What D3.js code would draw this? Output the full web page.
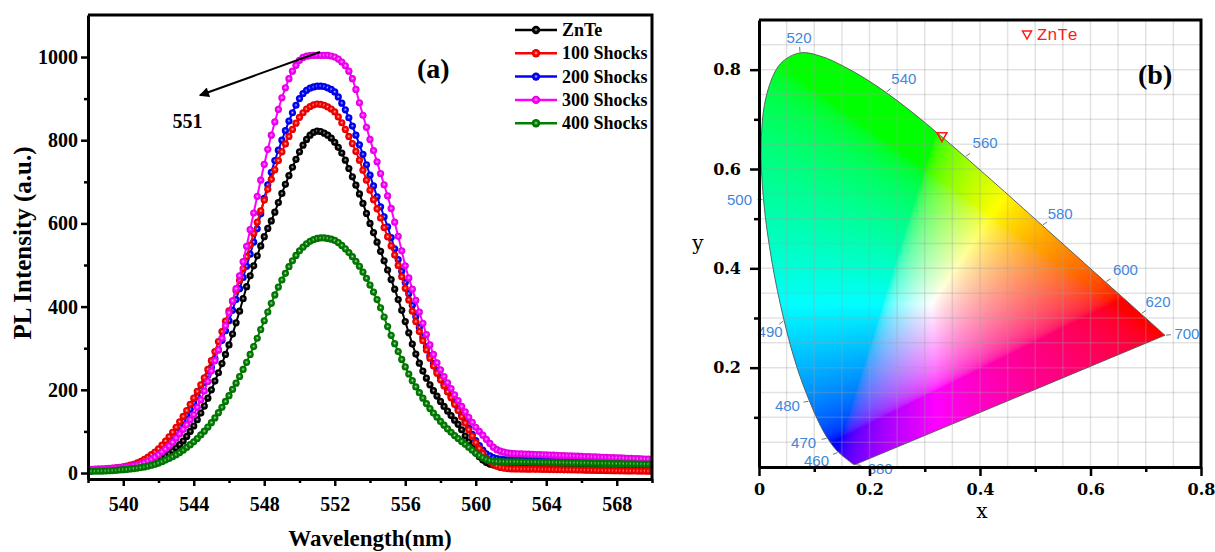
<!DOCTYPE html>
<html>
<head>
<meta charset="utf-8">
<script src="https://cdn.jsdelivr.net/npm/d3@7"></script>
<style>
  html, body { margin: 0; padding: 0; background: #fff; }
  svg { display: block; }
</style>
</head>
<body>
<svg id="chart" width="1215" height="552"></svg>
<script>
// ---------------- Panel (a): PL spectra ----------------
// Samples start at 538 nm, one every 0.2 nm (161 per spectrum).
const wlStart = 538;
const wlStep = 0.2;

const plZnTe = [
  6, 6, 6, 6.3, 6.6,  7, 7.2, 7.6, 8.1, 8.5,
  9, 9.8, 10.8, 12, 13.4,  15, 17.2, 19.7, 22.6, 26,
  30, 35, 40, 46, 53,  60, 68, 77, 88, 100,
  113, 128, 144, 161, 180,  200, 221, 241, 263, 285,
  308, 334, 361, 389, 419,  448, 474, 498, 522, 546,
  568, 588, 606, 627, 650,  672, 694, 715, 735, 754,
  772, 788, 802, 812, 819,  822, 821, 817, 812, 805,
  795, 783, 769, 752, 732,  712, 692, 671, 648, 624,
  600, 578, 555, 533, 510,  488, 465, 442, 417, 391,
  364, 337, 310, 286, 264,  245, 228, 212, 198, 185,
  172, 160, 149, 138, 127,  117, 104, 89, 75, 61,
  48, 39, 31, 25, 21.5,  19, 17.5, 16.5, 15.8, 15.3,
  15,
  14.9, 14.8, 14.7, 14.6, 14.5, 14.4, 14.3, 14.2, 14.1, 14.0,
  13.9, 13.8, 13.7, 13.6, 13.5, 13.4, 13.3, 13.2, 13.1, 13.0,
  12.9, 12.8, 12.7, 12.6, 12.5, 12.4, 12.3, 12.2, 12.1, 12.0,
  12.0, 11.9, 11.9, 11.9, 11.8, 11.8, 11.8, 11.7, 11.7, 11.7
];

const pl100 = [
  7, 7, 7.5, 8, 8.5,  9, 10, 11, 12.3, 13.6,
  15, 16.8, 18.8, 21, 24.2,  28, 32.8, 38, 44, 50.5,
  58, 67, 77, 87, 98,  110, 123, 136, 150, 165,
  180, 196, 212, 229, 249,  270, 292, 316, 340, 365,
  390, 413, 438, 463, 491,  520, 548, 576, 603, 630,
  656, 682, 706, 729, 751,  772, 791, 809, 826, 841,
  855, 866, 875, 881, 885,  887, 886, 884, 880, 875,
  868, 856, 842, 826, 809,  792, 773, 752, 728, 704,
  680, 657, 635, 613, 590,  568, 546, 524, 499, 472,
  444, 416, 389, 364, 340,  318, 296, 276, 257, 240,
  224, 209, 195, 181, 165,  150, 135, 120, 104, 89,
  73, 59, 47, 36, 28,  21, 16.5, 13.5, 11.8, 10.7,
  10,
  9.85, 9.7, 9.55, 9.4, 9.25, 9.1, 8.95, 8.8, 8.65, 8.5,
  8.35, 8.2, 8.05, 7.9, 7.75, 7.6, 7.45, 7.3, 7.15, 7.0,
  6.85, 6.7, 6.55, 6.4, 6.25, 6.1, 5.95, 5.8, 5.65, 5.5,
  5.35, 5.2, 5.05, 4.9, 4.8, 4.7, 4.6, 4.5, 4.4, 4.3
];

const pl200 = [
  6, 6.3, 6.7, 7.1, 7.5,  8, 8.7, 9.5, 10.5, 11.7,
  13, 14.6, 16.5, 18.6, 21.6,  25, 29, 33.5, 39, 45,
  51, 59, 67.5, 77, 88,  99, 112, 125, 139, 153,
  168, 184, 200, 217, 235,  254, 275, 296, 319, 342,
  366, 391, 417, 443, 470,  497, 526, 555, 587, 623,
  660, 693, 723, 751, 776,  800, 823, 846, 866, 884,
  900, 912, 920, 925, 928,  930, 930, 929, 926, 922,
  916, 904, 889, 873, 854,  834, 812, 789, 766, 741,
  716, 690, 664, 640, 616,  592, 566, 539, 513, 485,
  458, 431, 403, 376, 350,  326, 303, 282, 263, 246,
  230, 214, 199, 185, 170,  155, 139, 124, 108, 93,
  78, 66, 55, 46, 41,  37, 34.8, 33.2, 32.3, 31.8,
  31.5,
  31.35, 31.2, 31.05, 30.9, 30.75, 30.6, 30.45, 30.3, 30.15, 30.0,
  29.85, 29.7, 29.55, 29.4, 29.25, 29.1, 28.95, 28.8, 28.65, 28.5,
  28.35, 28.2, 28.05, 27.9, 27.75, 27.6, 27.45, 27.3, 27.15, 27.0,
  26.85, 26.7, 26.55, 26.4, 26.25, 26.1, 26.0, 25.9, 25.85, 25.8
];

const pl300 = [
  9, 9, 9.3, 9.7, 10.1,  10.5, 11, 11.7, 12.4, 13.2,
  14, 15.1, 16.4, 17.9, 19.8,  22, 25, 28.8, 33, 38,
  44, 50.5, 57.5, 65, 74,  84, 94, 105, 116, 128,
  140, 158, 176, 197, 220,  245, 270, 296, 324, 354,
  385, 414, 443, 474, 508,  545, 585, 625, 665, 704,
  742, 778, 812, 844, 874,  902, 926, 948, 966, 980,
  992, 999, 1002, 1003.5, 1004,  1004, 1004, 1004, 1004, 1002.5,
  1000, 995, 988, 979, 966,  948, 922, 890, 860, 831,
  802, 775, 748, 720, 693,  666, 636, 603, 569, 534,
  498, 469, 442, 415, 387,  360, 333, 308, 285, 265,
  248, 232, 217, 203, 188,  174, 160, 147, 134, 122,
  110, 100, 91, 81, 71,  62, 56, 52.5, 50, 48.3,
  47,
  46.65, 46.3, 45.95, 45.6, 45.25, 44.9, 44.55, 44.2, 43.85, 43.5,
  43.15, 42.8, 42.45, 42.1, 41.75, 41.4, 41.05, 40.7, 40.35, 40.0,
  39.65, 39.3, 38.95, 38.6, 38.25, 37.9, 37.55, 37.2, 36.85, 36.5,
  36.15, 35.8, 35.45, 35.1, 34.75, 34.4, 34.05, 33.7, 33.35, 33.0
];

const pl400 = [
  4, 4, 4.2, 4.5, 4.7,  5, 5.4, 5.9, 6.6, 7.3,
  8, 8.8, 9.7, 10.7, 11.8,  13, 14.6, 16.5, 18.6, 21.2,
  24, 27.3, 31, 35, 39.3,  44, 49.2, 55, 61.5, 68,
  75, 83, 91.5, 100.5, 110.5,  121, 132.5, 145, 158, 172,
  186, 201, 216, 232, 249,  266, 285, 304, 324, 345,
  366, 387, 408, 428, 447,  464, 480, 496, 510, 523,
  534, 543, 551, 557, 561,  564, 565, 565, 564, 562,
  559, 554, 547, 539, 530,  520, 509, 497, 483, 468,
  452, 435, 417, 397, 375,  352, 331, 311, 292, 273,
  255, 238, 222, 207, 193,  180, 167, 155, 144, 134,
  124, 115, 106, 98, 90,  83, 76, 69, 62, 55,
  48, 42, 36.5, 32.5, 29.8,  28, 27.6, 27.3, 27.1, 27,
  27,
  26.85, 26.7, 26.55, 26.4, 26.25, 26.1, 25.95, 25.8, 25.65, 25.5,
  25.35, 25.2, 25.05, 24.9, 24.75, 24.6, 24.45, 24.3, 24.15, 24.0,
  23.85, 23.7, 23.55, 23.4, 23.25, 23.1, 22.95, 22.8, 22.65, 22.5,
  22.35, 22.2, 22.05, 21.9, 21.75, 21.6, 21.45, 21.3, 21.15, 21.0
];

const seriesNames = ["ZnTe", "100 Shocks", "200 Shocks", "300 Shocks", "400 Shocks"];
const seriesValues = [plZnTe, pl100, pl200, pl300, pl400];
const seriesColors = ["#000000", "#ff0000", "#0000ff", "#ff00ff", "#008000"];
const drawOrder = [2, 0, 1, 3, 4];

const xTicksA = [540, 544, 548, 552, 556, 560, 564, 568];
const xMinorA = [538, 542, 546, 550, 554, 558, 562, 566, 570];
const yTicksA = [0, 200, 400, 600, 800, 1000];
const yMinorA = [100, 300, 500, 700, 900];
const peakWavelength = 551;

// ---------------- Panel (b): CIE 1931 chromaticity ----------------
const locusNm = [380, 385, 390, 395, 400, 405, 410, 415, 420, 425, 430, 435, 440, 445, 450,
  455, 460, 465, 470, 475, 480, 485, 490, 495, 500, 505, 510, 515, 520, 525, 530, 535,
  540, 545, 550, 555, 560, 565, 570, 575, 580, 585, 590, 595, 600, 605, 610, 615, 620,
  625, 630, 635, 640, 645, 650, 660, 670, 680, 690, 700];
const locusX = [0.1741, 0.1740, 0.1738, 0.1736, 0.1733, 0.1730, 0.1726, 0.1721, 0.1714,
  0.1703, 0.1689, 0.1669, 0.1644, 0.1611, 0.1566, 0.1510, 0.1440, 0.1355, 0.1241, 0.1096,
  0.0913, 0.0687, 0.0454, 0.0235, 0.0082, 0.0039, 0.0139, 0.0389, 0.0743, 0.1142, 0.1547,
  0.1929, 0.2296, 0.2658, 0.3016, 0.3373, 0.3731, 0.4087, 0.4441, 0.4788, 0.5125, 0.5448,
  0.5752, 0.6029, 0.6270, 0.6482, 0.6658, 0.6801, 0.6915, 0.7006, 0.7079, 0.7140, 0.7190,
  0.7230, 0.7260, 0.7300, 0.7320, 0.7334, 0.7344, 0.7347];
const locusY = [0.0050, 0.0050, 0.0049, 0.0049, 0.0048, 0.0048, 0.0048, 0.0048, 0.0051,
  0.0058, 0.0069, 0.0086, 0.0109, 0.0138, 0.0177, 0.0227, 0.0297, 0.0399, 0.0578, 0.0868,
  0.1327, 0.2007, 0.2950, 0.4127, 0.5384, 0.6548, 0.7502, 0.8120, 0.8338, 0.8262, 0.8059,
  0.7816, 0.7543, 0.7243, 0.6923, 0.6589, 0.6245, 0.5896, 0.5547, 0.5202, 0.4866, 0.4544,
  0.4242, 0.3965, 0.3725, 0.3514, 0.3340, 0.3197, 0.3083, 0.2993, 0.2920, 0.2859, 0.2809,
  0.2770, 0.2740, 0.2700, 0.2680, 0.2666, 0.2656, 0.2653];
const markedNm = [380, 460, 470, 480, 490, 500, 520, 540, 560, 580, 600, 620, 700];

const sampleName = "ZnTe";
const sampleX = [0.331];
const sampleY = [0.664];

const xTicksB = [0, 0.2, 0.4, 0.6, 0.8];
const xMinorB = [0.1, 0.3, 0.5, 0.7];
const yTicksB = [0.2, 0.4, 0.6, 0.8];
const yMinorB = [0.1, 0.3, 0.5, 0.7];

// ---------------- Drawing ----------------
const svg = d3.select("#chart");
const defs = svg.append("defs");
const serif = "'Liberation Serif', 'Times New Roman', serif";
const bookSerif = "'DejaVu Serif', serif";

// ===== Panel (a) =====
const A = { left: 88, top: 15, right: 652, bottom: 479 };
const xA = d3.scaleLinear().domain([538, 570]).range([A.left, A.right]);
const yA = d3.scaleLinear().domain([-14.4, 1101]).range([A.bottom, A.top]);

defs.append("clipPath").attr("id", "clipA")
  .append("rect").attr("x", A.left).attr("y", A.top)
  .attr("width", A.right - A.left).attr("height", A.bottom - A.top);

// shaded ball markers: solid colour with a small soft highlight
seriesColors.forEach((c, i) => {
  const g = defs.append("radialGradient").attr("id", "ball" + i)
    .attr("cx", "50%").attr("cy", "50%").attr("r", "50%")
    .attr("fx", "50%").attr("fy", "46%");
  g.append("stop").attr("offset", "0%").attr("stop-color", d3.interpolateRgb(c, "#ffffff")(0.8));
  g.append("stop").attr("offset", "22%").attr("stop-color", d3.interpolateRgb(c, "#ffffff")(0.35));
  g.append("stop").attr("offset", "48%").attr("stop-color", c);
  g.append("stop").attr("offset", "100%").attr("stop-color", d3.color(c).darker(0.5).formatHex());
});

const seriesData = seriesValues.map(vals => vals.map((v, i) => ({ w: wlStart + i * wlStep, v })));

const gSeries = svg.append("g").attr("clip-path", "url(#clipA)");
const line = d3.line().x(d => xA(d.w)).y(d => yA(d.v));
drawOrder.forEach(k => {
  const g = gSeries.append("g");
  g.append("path").datum(seriesData[k])
    .attr("d", line).attr("fill", "none")
    .attr("stroke", seriesColors[k]).attr("stroke-width", 2);
  g.selectAll("circle").data(seriesData[k]).join("circle")
    .attr("cx", d => xA(d.w)).attr("cy", d => yA(d.v)).attr("r", 3.6)
    .attr("fill", `url(#ball${k})`);
});

// axes of panel (a)
const axA = svg.append("g");
axA.append("g").attr("transform", `translate(0,${A.bottom})`)
  .call(d3.axisBottom(xA).tickValues(xTicksA).tickSize(7).tickSizeOuter(0).tickPadding(11).tickFormat(d3.format("d")));
axA.append("g").attr("transform", `translate(0,${A.bottom})`)
  .call(d3.axisBottom(xA).tickValues(xMinorA).tickSize(4).tickSizeOuter(0).tickFormat(""))
  .select(".domain").remove();
axA.append("g").attr("transform", `translate(${A.left},0)`)
  .call(d3.axisLeft(yA).tickValues(yTicksA).tickSize(7).tickSizeOuter(0).tickPadding(3).tickFormat(d3.format("d")));
axA.append("g").attr("transform", `translate(${A.left},0)`)
  .call(d3.axisLeft(yA).tickValues(yMinorA).tickSize(4).tickSizeOuter(0).tickFormat(""))
  .select(".domain").remove();
axA.selectAll(".domain").attr("stroke", "#000").attr("stroke-width", 3);
axA.selectAll(".tick line").attr("stroke", "#000").attr("stroke-width", 2.5);
axA.selectAll(".tick text").attr("font-family", serif).attr("font-weight", "bold")
  .attr("font-size", 20).attr("fill", "#000");
// box top / right
axA.append("path")
  .attr("d", `M${A.left},${A.top}H${A.right}V${A.bottom}`)
  .attr("fill", "none").attr("stroke", "#000").attr("stroke-width", 3);

svg.append("text")
  .attr("transform", `translate(22,${(A.top + A.bottom) / 2 - 4}) rotate(-90)`)
  .attr("text-anchor", "middle").attr("dominant-baseline", "central")
  .attr("font-family", serif).attr("font-weight", "bold").attr("font-size", 25)
  .text("PL Intensity (a.u.)");
svg.append("text")
  .attr("x", (A.left + A.right) / 2).attr("y", 546)
  .attr("text-anchor", "middle")
  .attr("font-family", serif).attr("font-weight", "bold").attr("font-size", 23)
  .text("Wavelength(nm)");

// panel tag
svg.append("text").attr("x", 417).attr("y", 78)
  .attr("font-family", serif).attr("font-weight", "bold").attr("font-size", 28)
  .text("(a)");

// peak annotation arrow
defs.append("marker").attr("id", "arrowHead")
  .attr("viewBox", "0 0 10 10").attr("refX", 9).attr("refY", 5)
  .attr("markerWidth", 6).attr("markerHeight", 5).attr("orient", "auto")
  .attr("markerUnits", "strokeWidth")
  .append("path").attr("d", "M0,0L10,5L0,10Z").attr("fill", "#000");
svg.append("line")
  .attr("x1", xA(551.16)).attr("y1", yA(1012))
  .attr("x2", xA(544.35)).attr("y2", yA(908))
  .attr("stroke", "#000").attr("stroke-width", 2)
  .attr("marker-end", "url(#arrowHead)");
svg.append("text").attr("x", xA(542.8)).attr("y", yA(829))
  .attr("font-family", serif).attr("font-weight", "bold").attr("font-size", 20)
  .text(String(peakWavelength));

// legend of panel (a)
const legA = svg.append("g");
seriesNames.forEach((name, i) => {
  const y = 30 + i * 23.3;
  legA.append("line").attr("x1", 515).attr("x2", 557).attr("y1", y).attr("y2", y)
    .attr("stroke", seriesColors[i]).attr("stroke-width", 2.5);
  legA.append("circle").attr("cx", 536).attr("cy", y).attr("r", 4.2)
    .attr("fill", `url(#ball${i})`);
  legA.append("text").attr("x", 562).attr("y", y).attr("dominant-baseline", "central")
    .attr("font-family", serif).attr("font-weight", "bold").attr("font-size", 18)
    .text(name);
});

// ===== Panel (b) =====
const B = { left: 759, top: 20, right: 1201, bottom: 467 };
const xB = d3.scaleLinear().domain([0, 0.8]).range([B.left, B.right]);
const yB = d3.scaleLinear().domain([0, 0.9]).range([B.bottom, B.top]);

const locusPts = locusNm.map((nm, i) => [xB(locusX[i]), yB(locusY[i])]);
const locusPath = d3.line().curve(d3.curveCatmullRom.alpha(0.5))(locusPts) + "Z";

defs.append("clipPath").attr("id", "clipLocus").append("path").attr("d", locusPath);

// colour field: chromaticity -> sRGB, brightest version of each colour
const bw = B.right - B.left, bh = B.bottom - B.top;
const canvas = document.createElement("canvas");
canvas.width = bw; canvas.height = bh;
const ctx = canvas.getContext("2d");
const im = ctx.createImageData(bw, bh);
const gam = c => c <= 0.0031308 ? 12.92 * c : 1.055 * Math.pow(c, 1 / 2.4) - 0.055;
for (let j = 0; j < bh; j++) {
  const cy = yB.invert(B.top + j + 0.5);
  for (let i = 0; i < bw; i++) {
    const cx = xB.invert(B.left + i + 0.5);
    let r = 1, g = 1, b = 1;
    if (cy > 1e-4) {
      const X = cx / cy, Z = (1 - cx - cy) / cy;
      r = Math.max(0, 3.2406 * X - 1.5372 - 0.4986 * Z);
      g = Math.max(0, -0.9689 * X + 1.8758 + 0.0415 * Z);
      b = Math.max(0, 0.0557 * X - 0.2040 + 1.0570 * Z);
      const m = Math.max(r, g, b) || 1;
      r = gam(r / m); g = gam(g / m); b = gam(b / m);
    }
    const k = (j * bw + i) * 4;
    im.data[k] = Math.round(r * 255);
    im.data[k + 1] = Math.round(g * 255);
    im.data[k + 2] = Math.round(b * 255);
    im.data[k + 3] = 255;
  }
}
ctx.putImageData(im, 0, 0);
svg.append("image")
  .attr("href", canvas.toDataURL())
  .attr("x", B.left).attr("y", B.top).attr("width", bw).attr("height", bh)
  .attr("preserveAspectRatio", "none")
  .attr("clip-path", "url(#clipLocus)");

// grid every 0.05
const gridB = svg.append("g").attr("stroke", "rgba(160,160,160,0.3)").attr("stroke-width", 1.5);
d3.range(0.05, 0.8, 0.05).forEach(v => gridB.append("line")
  .attr("x1", xB(v)).attr("x2", xB(v)).attr("y1", B.top).attr("y2", B.bottom));
d3.range(0.05, 0.9, 0.05).forEach(v => gridB.append("line")
  .attr("x1", B.left).attr("x2", B.right).attr("y1", yB(v)).attr("y2", yB(v)));

svg.append("path").attr("d", locusPath).attr("fill", "none")
  .attr("stroke", "#555").attr("stroke-width", 0.9);

// wavelength labels around the locus
const labelOffset = {
  380: [25, 4], 460: [-22, 8], 470: [-24, 4], 480: [-22, 4], 490: [-14, 11],
  500: [-24, 0], 520: [-1, -15], 540: [18, -14], 560: [20, -14], 580: [18, -12],
  600: [20, -12], 620: [17, -12], 700: [22, -2]
};
const gLab = svg.append("g");
markedNm.forEach(nm => {
  const i = locusNm.indexOf(nm);
  const [px, py] = locusPts[i];
  const [dx, dy] = labelOffset[nm];
  const len = Math.hypot(dx, dy);
  gLab.append("line")
    .attr("x1", px + dx / len * 1).attr("y1", py + dy / len * 1)
    .attr("x2", px + dx / len * 6).attr("y2", py + dy / len * 6)
    .attr("stroke", "#777").attr("stroke-width", 1);
  gLab.append("text").attr("x", px + dx).attr("y", py + dy)
    .attr("text-anchor", "middle").attr("dominant-baseline", "central")
    .attr("font-family", "'Liberation Sans', Arial, sans-serif").attr("font-size", 15)
    .attr("fill", "#3f86dc").text(nm);
});

// sample point
const tri = (cx, cy, w, h) => `M${cx - w / 2},${cy - h / 2}H${cx + w / 2}L${cx},${cy + h / 2}Z`;
sampleX.forEach((sx, i) => {
  svg.append("path").attr("d", tri(xB(sx), yB(sampleY[i]), 10, 9))
    .attr("fill", "none").attr("stroke", "#ff1a1a").attr("stroke-width", 1.6);
});
svg.append("path").attr("d", tri(1027, 35, 9, 8))
  .attr("fill", "none").attr("stroke", "#ff1a1a").attr("stroke-width", 1.5);
svg.append("text").attr("x", 1037).attr("y", 35).attr("dominant-baseline", "central")
  .attr("font-family", "'Liberation Mono', 'Courier New', monospace").attr("font-size", 17)
  .attr("fill", "#ff1a1a").text(sampleName);

// axes of panel (b)
const axB = svg.append("g");
axB.append("g").attr("transform", `translate(0,${B.bottom})`)
  .call(d3.axisBottom(xB).tickValues(xTicksB).tickSize(9).tickSizeOuter(0).tickPadding(8)
    .tickFormat(d => d === 0 ? "0" : d3.format(".1f")(d)));
axB.append("g").attr("transform", `translate(0,${B.bottom})`)
  .call(d3.axisBottom(xB).tickValues(xMinorB).tickSize(5).tickSizeOuter(0).tickFormat(""))
  .select(".domain").remove();
axB.append("g").attr("transform", `translate(${B.left},0)`)
  .call(d3.axisLeft(yB).tickValues(yTicksB).tickSize(9).tickSizeOuter(0).tickPadding(9)
    .tickFormat(d3.format(".1f")));
axB.append("g").attr("transform", `translate(${B.left},0)`)
  .call(d3.axisLeft(yB).tickValues(yMinorB).tickSize(5).tickSizeOuter(0).tickFormat(""))
  .select(".domain").remove();
axB.selectAll(".domain").attr("stroke", "#000").attr("stroke-width", 3);
axB.selectAll(".tick line").attr("stroke", "#000").attr("stroke-width", 2.5);
axB.selectAll(".tick text").attr("font-family", bookSerif).attr("font-weight", "bold")
  .attr("font-size", 16).attr("fill", "#000");
axB.append("path")
  .attr("d", `M${B.left},${B.top}H${B.right}V${B.bottom}`)
  .attr("fill", "none").attr("stroke", "#000").attr("stroke-width", 3);

svg.append("text").attr("x", 698).attr("y", 250).attr("text-anchor", "middle")
  .attr("font-family", bookSerif).attr("font-size", 20).text("y");
svg.append("text").attr("x", 982).attr("y", 518).attr("text-anchor", "middle")
  .attr("font-family", bookSerif).attr("font-size", 20).text("x");

svg.append("text").attr("x", 1138).attr("y", 84)
  .attr("font-family", serif).attr("font-weight", "bold").attr("font-size", 28)
  .text("(b)");
</script>
</body>
</html>
